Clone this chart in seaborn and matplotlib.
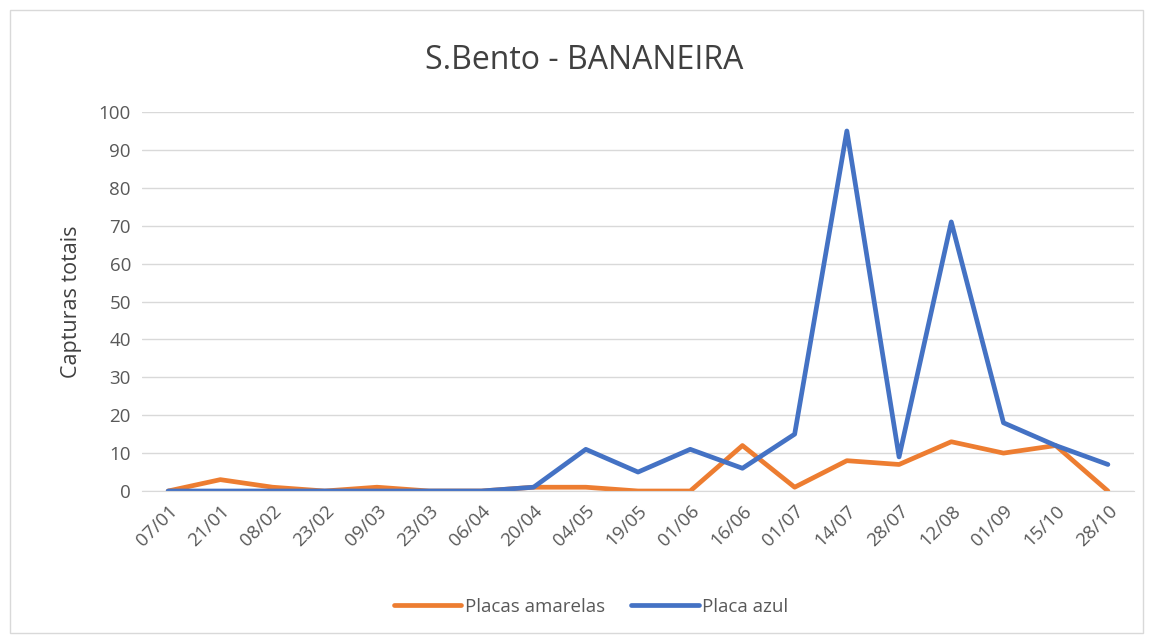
import matplotlib
matplotlib.use('Agg')
import matplotlib.pyplot as plt
import seaborn as sns
import pandas as pd
from matplotlib.patches import Rectangle

# %% data
datas = ['07/01', '21/01', '08/02', '23/02', '09/03', '23/03', '06/04', '20/04',
         '04/05', '19/05', '01/06', '16/06', '01/07', '14/07', '28/07', '12/08',
         '01/09', '15/10', '28/10']
placas_amarelas = [0, 3, 1, 0, 1, 0, 0, 1, 1, 0, 0, 12, 1, 8, 7, 13, 10, 12, 0]
placa_azul = [0, 0, 0, 0, 0, 0, 0, 1, 11, 5, 11, 6, 15, 95, 9, 71, 18, 12, 7]

df = pd.DataFrame({'x': list(range(len(datas))) * 2,
                   'valor': placas_amarelas + placa_azul,
                   'serie': ['Placas amarelas'] * len(datas) + ['Placa azul'] * len(datas)})

# %% plot
sns.set_style('white')
plt.rcParams['font.family'] = ['Open Sans', 'DejaVu Sans']

fig = plt.figure(figsize=(11.5, 6.39), dpi=100)
ax = fig.add_axes([0.1235, 0.2316, 0.8626, 0.5931])

sns.lineplot(data=df, x='x', y='valor', hue='serie', ax=ax,
             palette={'Placas amarelas': '#ED7D31', 'Placa azul': '#4472C4'},
             linewidth=3.4, legend=False)

ax.set_xlim(-0.5, len(datas) - 0.5)
ax.set_ylim(0, 100)
ax.set_yticks(range(0, 101, 10))
ax.set_xticks(range(len(datas)))
ax.set_xticklabels(datas, rotation=45, ha='right', rotation_mode='anchor')
ax.tick_params(axis='both', colors='#595959', labelsize=13.5, length=0, pad=8)
ax.grid(axis='y', color='#D9D9D9', linewidth=1)
ax.set_axisbelow(True)
for s in ['top', 'right', 'left']:
    ax.spines[s].set_visible(False)
ax.spines['bottom'].set_color('#D9D9D9')
ax.set_xlabel('')
ax.set_ylabel('Capturas totais', fontsize=15.5, color='#404040', labelpad=12)

fig.text(0.508, 0.905, 'S.Bento - BANANEIRA', ha='center', va='center',
         fontsize=23, color='#404040')

# legend
h1, = ax.plot([], [], color='#ED7D31', linewidth=3.4, label='Placas amarelas')
h2, = ax.plot([], [], color='#4472C4', linewidth=3.4, label='Placa azul')
fig.legend(handles=[h1, h2], loc='center', bbox_to_anchor=(0.514, 0.05), ncol=2,
           frameon=False, fontsize=13.5, labelcolor='#595959', handlelength=3.6,
           columnspacing=1.4, handletextpad=0.2)

# outer chart border
fig.patches.append(Rectangle((0.009, 0.01), 0.985, 0.975, transform=fig.transFigure,
                             fill=False, edgecolor='#D9D9D9', linewidth=1))

fig.savefig('out.png', dpi=100)
